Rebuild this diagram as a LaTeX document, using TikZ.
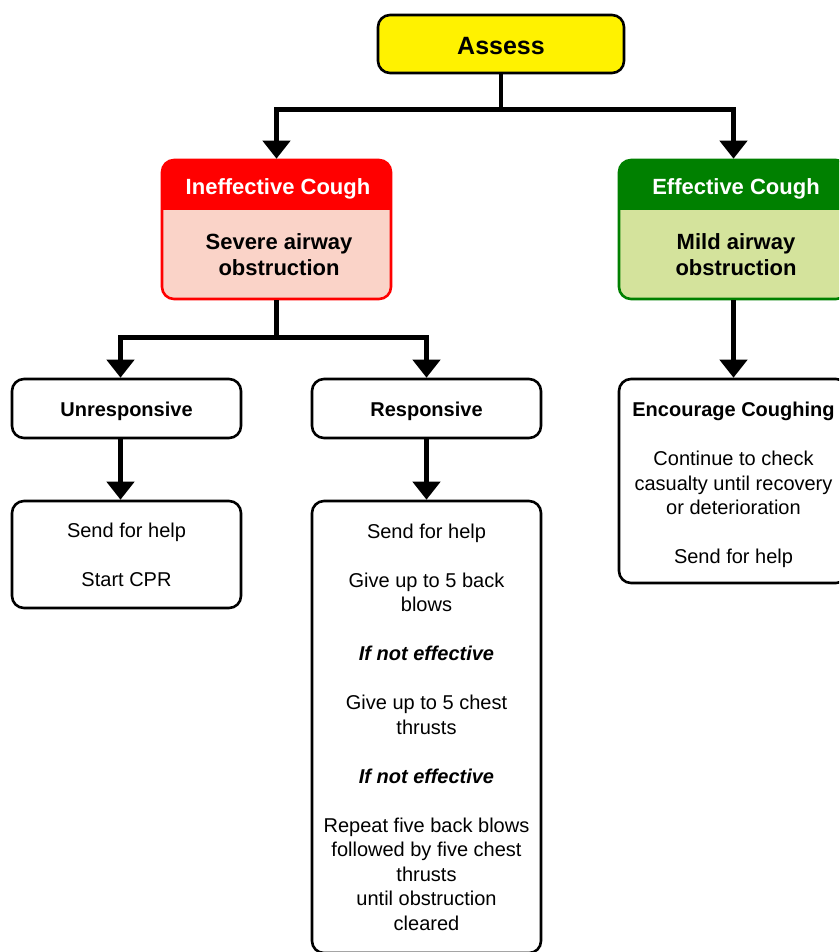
\documentclass[tikz,border=0pt]{standalone}
\usepackage{fontspec}
\setmainfont{Liberation Sans}
\usetikzlibrary{arrows.meta,positioning}
\definecolor{assessyellow}{HTML}{FFF200}
\definecolor{severered}{HTML}{FF0000}
\definecolor{severepink}{HTML}{FAD3C8}
\definecolor{mildgreen}{HTML}{008000}
\definecolor{mildlight}{HTML}{D4E39C}
\newcommand{\bodysize}{\fontsize{20}{24.5}\selectfont}
\tikzset{
	plainbox/.style={draw, line width=2.6pt, rounded corners=12pt, minimum width=229pt, inner sep=0pt, align=center, font=\bodysize},
	labelbox/.style={plainbox, minimum height=59pt, font=\bodysize\bfseries, text height=15.4pt, text depth=0pt},
	coughbox/.style={plainbox, draw=#1, minimum height=139pt},
	headfill/.style={path picture={\fill[#1, sharp corners] (path picture bounding box.north west) rectangle ([yshift=-50pt]path picture bounding box.north east);}},
	headtxt/.style={text=white, font=\fontsize{22}{26}\selectfont\bfseries},
	bodytxt/.style={align=center, font=\fontsize{22}{26}\selectfont\bfseries},
	flow/.style={line width=4.5pt, -{Triangle[length=18pt,width=27pt]}},
}
\begin{document}
\begin{tikzpicture}[x=1pt,y=-1pt]
	\clip (0,0) rectangle (839,952);
	% top
	\node[plainbox, fill=assessyellow, minimum width=246pt, minimum height=58pt, font=\fontsize{25}{30}\selectfont\bfseries, text height=21pt, text depth=0pt] (assess) at (501,44) {Assess};
	% cough boxes
	\node[coughbox=severered, fill=severepink, headfill=severered] (ineff) at (276.5,229.5) {};
	\node[headtxt] at (278,189) {Ineffective Cough};
	\node[bodytxt] at (279,255) {Severe airway\\obstruction};
	\node[coughbox=mildgreen, fill=mildlight, headfill=mildgreen] (eff) at (733.5,229.5) {};
	\node[headtxt] at (736,189) {Effective Cough};
	\node[bodytxt] at (736,255) {Mild airway\\obstruction};
	\draw[flow] (assess.south) -- ++(0,35) -| (ineff.north);
	\draw[flow] (assess.south) -- ++(0,35) -| (eff.north);
	% severe branch
	\node[labelbox] (unresp) at (126.5,408.5) {Unresponsive};
	\node[labelbox] (resp) at (426.5,408.5) {Responsive};
	\draw[flow] (ineff.south) -- ++(0,37) -| ([xshift=-6pt]unresp.north);
	\draw[flow] (ineff.south) -- ++(0,37) -| (resp.north);
	\node[plainbox, minimum height=107pt] (cpr) at (126.5,554.5) {Send for help\\[24.5pt]Start CPR};
	\draw[flow] ([xshift=-6pt]unresp.south) -- ([xshift=-6pt]cpr.north);
	\node[plainbox, minimum height=452pt] (blows) at (426.5,727) {Send for help\\[24.5pt]
		Give up to 5 back\\blows\\[24.5pt]
		\textbf{\textit{If not effective}}\\[24.5pt]
		Give up to 5 chest\\thrusts\\[24.5pt]
		\textbf{\textit{If not effective}}\\[24.5pt]
		Repeat five back blows\\followed by five chest\\thrusts\\until obstruction\\cleared};
	\draw[flow] (resp.south) -- (blows.north);
	% mild branch
	\node[plainbox, minimum height=204pt] (cough) at (733.5,481) {\rule{0pt}{22.5pt}\textbf{Encourage Coughing}\\[24.5pt]
		Continue to check\\casualty until recovery\\or deterioration\\[24.5pt]
		Send for help};
	\draw[flow] (eff.south) -- (cough.north);
\end{tikzpicture}
\end{document}
